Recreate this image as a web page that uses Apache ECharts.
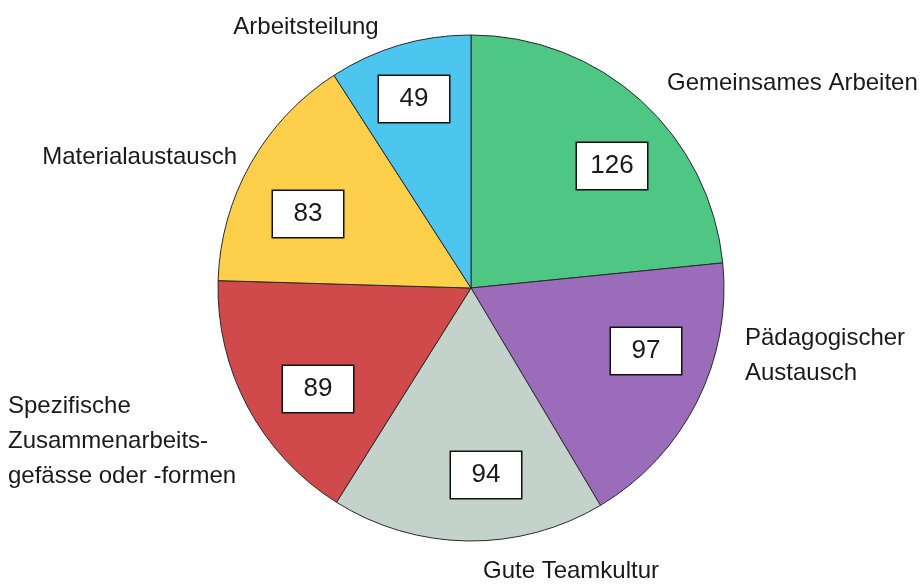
<!DOCTYPE html>
<html>
<head>
<meta charset="utf-8">
<script src="https://cdn.jsdelivr.net/npm/echarts@6/dist/echarts.min.js"></script>
<style>
html,body{margin:0;padding:0;background:#fff;}
#chart{width:921px;height:588px;}
</style>
</head>
<body>
<div id="chart"></div>
<script>
// ---- data ----
const categories = ['Gemeinsames Arbeiten', 'Pädagogischer\nAustausch', 'Gute Teamkultur', 'Spezifische\nZusammenarbeits-\ngefässe oder -formen', 'Materialaustausch', 'Arbeitsteilung'];
const values = [126, 97, 94, 89, 83, 49];
const colors = ['#4EC784', '#9A6CBA', '#C3D2CA', '#D04A4C', '#FECF4A', '#4CC5EF'];

// ---- label placement (styling only) ----
const nameAnchors = [
  {x: 667, y: 83, align: 'left'},
  {x: 745, y: 356, align: 'left'},
  {x: 571, y: 571, align: 'center'},
  {x: 8, y: 441, align: 'left'},
  {x: 237, y: 157, align: 'right'},
  {x: 306, y: 27, align: 'center'}
];
const valueAnchors = [
  {x: 612, y: 166}, {x: 646, y: 351}, {x: 486, y: 475},
  {x: 318, y: 389}, {x: 308, y: 214}, {x: 414, y: 99}
];

const FONT = "'Liberation Sans Narrow', 'Arial Narrow', 'Liberation Sans', Arial, sans-serif";
const pieData = categories.map((c, i) => ({name: c, value: values[i], itemStyle: {color: colors[i]}}));

const chart = echarts.init(document.getElementById('chart'), null, {renderer: 'canvas'});
chart.setOption({
  backgroundColor: '#ffffff',
  animation: false,
  series: [
    {
      type: 'pie',
      center: [471, 288],
      radius: [0, 253],
      startAngle: 90,
      clockwise: true,
      silent: true,
      data: pieData,
      itemStyle: {borderColor: '#2a2a2a', borderWidth: 1},
      label: {
        show: true,
        position: 'outside',
        formatter: '{b}',
        fontFamily: FONT,
        fontSize: 24,
        lineHeight: 35,
        color: '#1a1a1a',
        overflow: 'none'
      },
      labelLine: {show: false},
      labelLayout: function (p) {
        const a = nameAnchors[p.dataIndex];
        return {x: a.x, y: a.y, align: a.align, verticalAlign: 'middle', hideOverlap: false, width: 400};
      }
    },
    {
      type: 'pie',
      center: [471, 288],
      radius: [0, 253],
      startAngle: 90,
      clockwise: true,
      silent: true,
      data: categories.map((c, i) => ({name: c, value: values[i]})),
      itemStyle: {color: 'rgba(0,0,0,0)', borderWidth: 0},
      label: {
        show: true,
        position: 'inside',
        formatter: '{c}',
        fontFamily: FONT,
        fontSize: 26,
        color: '#1a1a1a',
        backgroundColor: '#ffffff',
        borderColor: '#111',
        borderWidth: 1.5,
        width: 70,
        height: 46,
        lineHeight: 46,
        align: 'center'
      },
      labelLine: {show: false},
      labelLayout: function (p) {
        const a = valueAnchors[p.dataIndex];
        return {x: a.x, y: a.y, align: 'center', verticalAlign: 'middle'};
      }
    }
  ]
});
</script>
</body>
</html>
